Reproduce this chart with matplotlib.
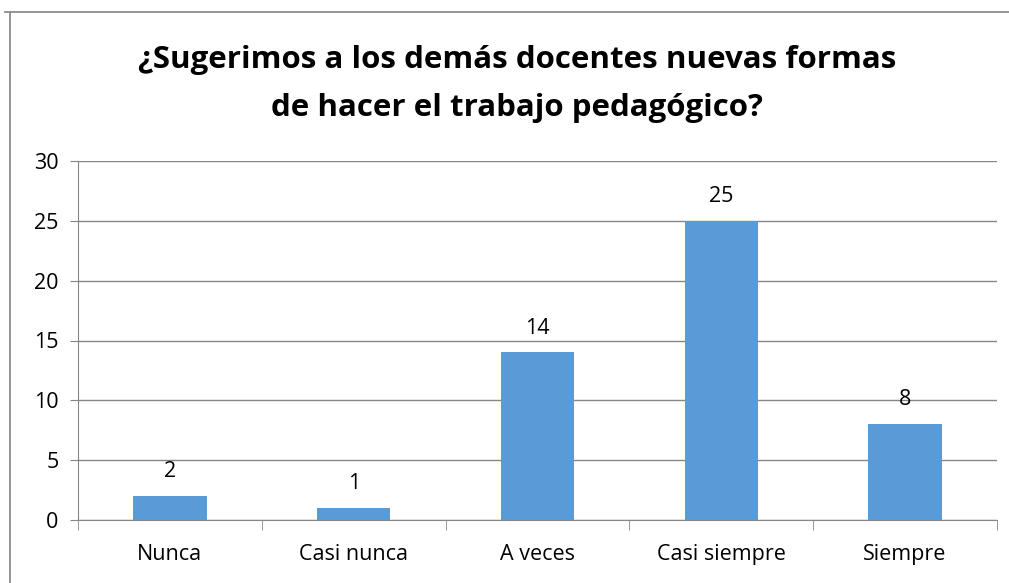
import matplotlib
matplotlib.use("Agg")
import matplotlib.pyplot as plt
from matplotlib.lines import Line2D

categories = ["Nunca", "Casi nunca", "A veces", "Casi siempre", "Siempre"]
values = [2, 1, 14, 25, 8]
yticks = [0, 5, 10, 15, 20, 25, 30]
title = "¿Sugerimos a los demás docentes nuevas formas\nde hacer el trabajo pedagógico?"

plt.rcParams['font.family'] = ['Open Sans', 'DejaVu Sans']

fig = plt.figure(figsize=(10.09, 5.83), dpi=100)
ax = fig.add_axes([78 / 1009, 1 - 520 / 583, (997 - 78) / 1009, (520 - 161) / 583])

# chart frame: only top and left edges are visible in the picture
fx, fy = 10 / 1009, 1 - 12 / 583
fig.lines.append(Line2D([5 / 1009, 1.0], [fy, fy], transform=fig.transFigure,
                        color="#8c8c8c", linewidth=1.3))
fig.lines.append(Line2D([fx, fx], [0.0, fy], transform=fig.transFigure,
                        color="#8c8c8c", linewidth=1.3))

x = range(len(categories))
bars = ax.bar(x, values, width=0.4, color="#5b9bd5", zorder=3)
for b, v in zip(bars, values):
    ax.annotate(str(v), xy=(b.get_x() + b.get_width() / 2, v), xytext=(0, 10),
                textcoords="offset points", ha="center", va="bottom", fontsize=15.5)

ax.set_xlim(-0.5, len(categories) - 0.5)
ax.set_ylim(0, 30)
ax.set_yticks(yticks)
ax.grid(axis="y", color="#868686", linewidth=1, zorder=0)
ax.set_xticks(x)
ax.set_xticklabels(categories)
ax.set_xticks([i - 0.5 for i in range(len(categories) + 1)], minor=True)
ax.tick_params(axis="x", which="major", length=0, pad=17, labelsize=15.5)
ax.tick_params(axis="x", which="minor", length=7, color="#868686")
ax.tick_params(axis="y", length=6, color="#868686", labelsize=15.5, pad=8)
for s in ["top", "right"]:
    ax.spines[s].set_visible(False)
for s in ["left", "bottom"]:
    ax.spines[s].set_color("#868686")

fig.text(517 / 1009, 1 - 84 / 583, title, ha="center", va="center",
         fontsize=22.5, fontweight="bold", linespacing=1.8)

fig.savefig("out.png", dpi=100)
